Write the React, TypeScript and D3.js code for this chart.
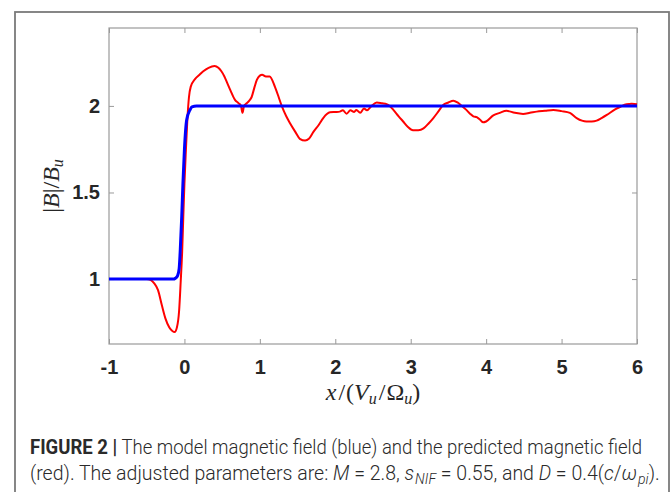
import React, { useEffect, useRef } from "react";
import * as d3 from "d3";

// Predicted (red) vs model (blue) magnetic field |B|/B_u across the shock.
const redX = [
  -1.0, -0.6, -0.5, -0.45, -0.4, -0.35, -0.3, -0.25, -0.2, -0.16, -0.13, -0.1, -0.07, -0.05, -0.03,
  -0.015, 0.0, 0.02, 0.04, 0.06, 0.083, 0.14, 0.2, 0.25, 0.32, 0.4, 0.45, 0.49, 0.53, 0.56, 0.61,
  0.67, 0.72, 0.75, 0.77, 0.79, 0.825, 0.86, 0.89, 0.93, 0.96, 1.0, 1.03, 1.08, 1.13, 1.2, 1.25,
  1.29, 1.35, 1.4, 1.47, 1.53, 1.6, 1.65, 1.71, 1.78, 1.84, 1.93, 2.0, 2.06, 2.1, 2.15, 2.2, 2.25,
  2.28, 2.33, 2.38, 2.42, 2.48, 2.55, 2.62, 2.68, 2.72, 2.77, 2.84, 2.9, 2.96, 3.03, 3.1, 3.17,
  3.24, 3.3, 3.37, 3.43, 3.5, 3.565, 3.62, 3.676, 3.73, 3.786, 3.83, 3.875, 3.92, 3.96, 4.0, 4.095,
  4.18, 4.27, 4.38, 4.49, 4.58, 4.67, 4.78, 4.89, 5.0, 5.11, 5.2, 5.27, 5.33, 5.4, 5.465, 5.53,
  5.6, 5.71, 5.78, 5.86, 5.93, 6.0,
];
const redY = [
  1.0, 1.0, 1.0, 0.995, 0.975, 0.936, 0.85, 0.77, 0.72, 0.7, 0.694, 0.72, 0.82, 0.98, 1.16,
  1.36, 1.55, 1.75, 1.93, 2.05, 2.11, 2.155, 2.18, 2.2, 2.22, 2.23, 2.22, 2.2, 2.17, 2.14, 2.09,
  2.035, 2.015, 2.0, 1.96, 2.0, 2.015, 2.03, 2.05, 2.11, 2.15, 2.175, 2.18, 2.17, 2.17, 2.11, 2.05,
  2.0, 1.94, 1.9, 1.85, 1.81, 1.8, 1.81, 1.85, 1.89, 1.93, 1.963, 1.965, 1.967, 1.975, 1.955, 1.975, 1.965,
  1.977, 1.96, 1.985, 1.975, 2.0, 2.02, 2.015, 2.01, 2.0, 1.977, 1.94, 1.91, 1.88, 1.86, 1.86, 1.87,
  1.9, 1.93, 1.97, 2.005, 2.02, 2.03, 2.02, 2.0, 1.98, 1.955, 1.94, 1.935, 1.92, 1.905, 1.91, 1.945,
  1.96, 1.972, 1.96, 1.954, 1.96, 1.967, 1.972, 1.977, 1.97, 1.96, 1.93, 1.915, 1.91, 1.91, 1.915, 1.93,
  1.948, 1.98, 1.995, 2.01, 2.012, 2.01,
];
const blueX = [-1.0, -0.15, -0.12, -0.09, -0.07, -0.055, -0.036, -0.02, 0.0, 0.03, 0.074, 0.1, 0.16, 6.0];
const blueY = [1.0, 1.0, 1.005, 1.02, 1.06, 1.17, 1.36, 1.55, 1.75, 1.92, 1.977, 1.995, 2.0, 2.0];
const xTicks = [-1, 0, 1, 2, 3, 4, 5, 6];
const yTicks = [1, 1.5, 2];

const left = 109, right = 637, top = 28, bottom = 344;

export default function App() {
  const ref = useRef<SVGGElement>(null);

  useEffect(() => {
    const g = d3.select(ref.current);
    g.selectAll("*").remove();

    const x = d3.scaleLinear().domain([-1, 6]).range([left, right]);
    const y = d3.scaleLinear().domain([0.625, 2.45]).range([bottom, top]);

    const tickFont = (s: any) =>
      s.selectAll("text").attr("font-family", "'Liberation Sans', Arial, sans-serif")
        .attr("font-weight", "bold").attr("font-size", 20).attr("fill", "#262626");
    const tickLines = (s: any) => {
      s.select(".domain").remove();
      s.selectAll("line").attr("stroke", "#9a9a9a");
    };

    g.append("g").attr("transform", `translate(0,${bottom})`)
      .call(d3.axisBottom(x).tickValues(xTicks).tickFormat((d: any) => String(d)).tickSize(-5).tickPadding(15.5))
      .call(tickLines).call(tickFont);
    g.append("g").attr("transform", `translate(0,${top})`)
      .call(d3.axisTop(x).tickValues(xTicks).tickFormat(() => "").tickSize(-5))
      .call(tickLines);
    g.append("g").attr("transform", `translate(${left},0)`)
      .call(d3.axisLeft(y).tickValues(yTicks).tickFormat((d: any) => String(d)).tickSize(-5).tickPadding(9))
      .call(tickLines).call(tickFont);
    g.append("g").attr("transform", `translate(${right},0)`)
      .call(d3.axisRight(y).tickValues(yTicks).tickFormat(() => "").tickSize(-5))
      .call(tickLines);

    // plot box
    g.append("rect").attr("x", left).attr("y", top).attr("width", right - left).attr("height", bottom - top)
      .attr("fill", "none").attr("stroke", "#9a9a9a").attr("stroke-width", 1.2);

    const path = d3.line().curve(d3.curveMonotoneX);
    const red = redX.map((v, i) => [x(v), y(redY[i])] as [number, number]);
    const blue = blueX.map((v, i) => [x(v), y(blueY[i])] as [number, number]);

    g.append("path").attr("d", path(red)).attr("fill", "none").attr("stroke", "#ff0000")
      .attr("stroke-width", 2).attr("stroke-linejoin", "round");
    g.append("path").attr("d", path(blue)).attr("fill", "none").attr("stroke", "#0000ff")
      .attr("stroke-width", 3).attr("stroke-linejoin", "round");
  }, []);

  const serif = "'Liberation Serif', 'Times New Roman', serif";
  const capFont = "Roboto, 'Liberation Sans', sans-serif";

  return (
    <svg width={671} height={492} style={{ position: "absolute", left: 0, top: 0, background: "#fff" }}>
      <rect x={15} y={12} width={654} height={500} fill="none" stroke="#7a7a7a" strokeWidth={1.8} />
      <g ref={ref} />

      {/* y label */}
      <text transform="translate(59,186) rotate(-90)" textAnchor="middle" fontFamily={serif}
        fontSize={24} fill="#262626">
        |<tspan fontStyle="italic">B</tspan>|/<tspan fontStyle="italic">B</tspan>
        <tspan fontStyle="italic" fontSize={16} dy={4}>u</tspan>
      </text>

      {/* x label */}
      <text x={373} y={400} textAnchor="middle" fontFamily={serif} fontSize={24} fill="#262626">
        <tspan fontStyle="italic">x</tspan>
        <tspan dx={2}>/</tspan>
        <tspan dx={1}>(</tspan>
        <tspan fontStyle="italic">V</tspan>
        <tspan fontStyle="italic" fontSize={16} dy={4}>u</tspan>
        <tspan dx={2} dy={-4}>/</tspan>
        <tspan dx={1}>Ω</tspan>
        <tspan fontStyle="italic" fontSize={16} dy={4}>u</tspan>
        <tspan dy={-4}>)</tspan>
      </text>

      {/* caption */}
      <text x={30} y={454} fontFamily={capFont} fontWeight={300} fontSize={19.5} fill="#2a2a2a"
        textLength={612} lengthAdjust="spacingAndGlyphs">
        <tspan fontWeight="bold">FIGURE 2 |</tspan> The model magnetic field (blue) and the predicted magnetic field
      </text>
      <text x={30} y={480} fontFamily={capFont} fontWeight={300} fontSize={19.5} fill="#2a2a2a">
        (red). The adjusted parameters are: <tspan fontStyle="italic">M</tspan> = 2.8,{" "}
        <tspan fontStyle="italic">s</tspan>
        <tspan fontStyle="italic" fontSize={14} dx={1} dy={4}>NIF</tspan>
        <tspan dy={-4}> = 0.55, and </tspan>
        <tspan fontStyle="italic">D</tspan> = 0.4(<tspan fontStyle="italic">c</tspan>/
        <tspan fontStyle="italic">ω</tspan>
        <tspan fontStyle="italic" fontSize={14} dx={1} dy={4}>pi</tspan>
        <tspan dy={-4}>).</tspan>
      </text>
    </svg>
  );
}
